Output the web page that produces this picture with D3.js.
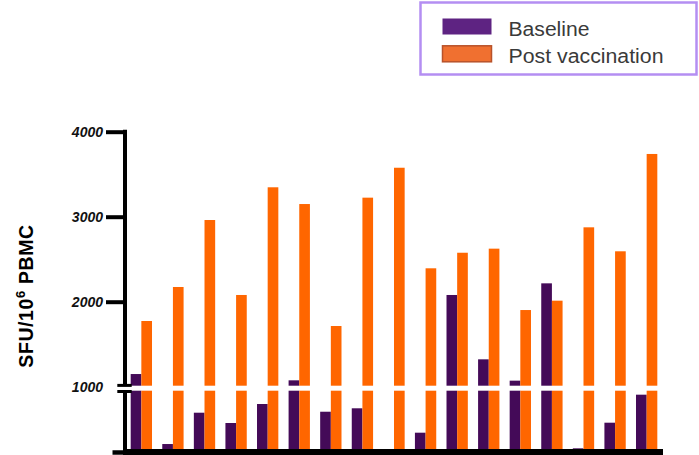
<!DOCTYPE html>
<html>
<head>
<meta charset="utf-8">
<script src="https://cdn.jsdelivr.net/npm/d3@7"></script>
<style>
  html, body { margin: 0; padding: 0; background: #fff; }
  svg { display: block; font-family: "Liberation Sans", Arial, sans-serif; }
</style>
</head>
<body>
<svg id="chart" width="699" height="455"></svg>
<script>
// Subjects 1..17, IFN-gamma ELISpot responses (SFU per 10^6 PBMC)
const subjects = d3.range(1, 18).map(String);
const baseline = [1149, 130, 641, 473, 783, 1075, 657, 713, 0, 315, 2079, 1322, 1071, 2216, 60, 478, 935];
const postVaccination = [1773, 2173, 2961, 2079, 3346, 3149, 1714, 3224, 3576, 2393, 2576, 2624, 1902, 2012, 2875, 2593, 3738];
const seriesNames = ["Baseline", "Post vaccination"];
const upperTicks = [1000, 2000, 3000, 4000];
const breakValue = 1000;

const colors = { "Baseline": "#440a58", "Post vaccination": "#ff6600" };
const legendColors = { "Baseline": "#5e2382", "Post vaccination": "#f07030" };

const svg = d3.select("#chart");

// x: one band per subject, split into two sub-bands
const x = d3.scaleBand().domain(subjects).range([125, 663]).paddingInner(0.325).paddingOuter(0.18);
const xs = d3.scaleBand().domain(seriesNames).range([0, x.bandwidth()]);

// broken y axis: lower segment 0-1000, upper segment 1000-4000
const yLow = d3.scaleLinear().domain([0, breakValue]).range([452, 390.7]);
const yUp = d3.scaleLinear().domain([breakValue, 4000]).range([386.7, 131.7]);
const upperBottom = 385.7;

const rows = subjects.map((s, i) => ({
  subject: s,
  values: [
    { key: "Baseline", value: baseline[i] },
    { key: "Post vaccination", value: postVaccination[i] }
  ]
}));

const groups = svg.append("g").selectAll("g")
  .data(rows).join("g")
  .attr("transform", d => `translate(${x(d.subject)},0)`);

// lower segment part of each bar
groups.selectAll("rect.low")
  .data(d => d.values.filter(v => v.value > 0)).join("rect")
  .attr("class", "low")
  .attr("x", d => xs(d.key))
  .attr("width", xs.bandwidth())
  .attr("y", d => yLow(Math.min(d.value, breakValue)))
  .attr("height", d => yLow(0) - yLow(Math.min(d.value, breakValue)))
  .attr("fill", d => colors[d.key]);

// upper segment part of bars above the break
groups.selectAll("rect.up")
  .data(d => d.values.filter(v => v.value > breakValue)).join("rect")
  .attr("class", "up")
  .attr("x", d => xs(d.key))
  .attr("width", xs.bandwidth())
  .attr("y", d => yUp(d.value))
  .attr("height", d => upperBottom - yUp(d.value))
  .attr("fill", d => colors[d.key]);

// upper axis with ticks and labels
const axUp = svg.append("g")
  .attr("transform", "translate(125,0)")
  .call(d3.axisLeft(yUp).tickValues(upperTicks).tickSize(19).tickPadding(3)
    .tickFormat(d3.format("d")).tickSizeOuter(0));
axUp.select(".domain").remove();
axUp.selectAll(".tick line").attr("stroke", "#000").attr("stroke-width", 4)
  .filter(d => d === breakValue).remove();
axUp.selectAll(".tick text")
  .attr("fill", "#111")
  .style("font-size", "14px").style("font-weight", "bold").style("font-style", "italic");

// lower axis: zero tick only
const axLow = svg.append("g")
  .attr("transform", "translate(125,0)")
  .call(d3.axisLeft(yLow).tickValues([0]).tickSize(12.5).tickFormat(() => "").tickSizeOuter(0));
axLow.select(".domain").remove();
axLow.selectAll(".tick line").attr("stroke", "#000").attr("stroke-width", 4.5);

// axis spines, interrupted at the break
svg.append("line").attr("x1", 125).attr("x2", 125)
  .attr("y1", yUp(4000) - 2).attr("y2", upperBottom)
  .attr("stroke", "#000").attr("stroke-width", 4);
svg.append("line").attr("x1", 125).attr("x2", 125)
  .attr("y1", yLow(breakValue)).attr("y2", yLow(0))
  .attr("stroke", "#000").attr("stroke-width", 4);
// break marks
[upperBottom - 0.3, yLow(breakValue) + 0.8].forEach(yy => {
  svg.append("line").attr("x1", 117.3).attr("x2", 131.7)
    .attr("y1", yy).attr("y2", yy)
    .attr("stroke", "#000").attr("stroke-width", 3);
});
// x baseline
svg.append("line").attr("x1", 123).attr("x2", 663)
  .attr("y1", yLow(0)).attr("y2", yLow(0))
  .attr("stroke", "#000").attr("stroke-width", 6);

// y axis title
const yTitle = svg.append("text")
  .attr("transform", "translate(33,296) rotate(-90)")
  .attr("text-anchor", "middle")
  .attr("fill", "#000")
  .style("font-size", "19.5px").style("font-weight", "bold")
  .style("letter-spacing", "0.6px");
yTitle.append("tspan").text("SFU/10");
yTitle.append("tspan").attr("dy", -8).style("font-size", "13px").text("6");
yTitle.append("tspan").attr("dy", 8).text(" PBMC");

// legend
const legend = svg.append("g");
legend.append("rect")
  .attr("x", 420.5).attr("y", 2.5).attr("width", 276).attr("height", 72)
  .attr("fill", "#fff").attr("stroke", "#b48ef2").attr("stroke-width", 2.5);
const legendTextWidth = { "Baseline": 81, "Post vaccination": 155 };
seriesNames.forEach((name, i) => {
  const yy = 18.5 + i * 27.3;
  legend.append("rect")
    .attr("x", 442.5).attr("y", yy).attr("width", 49).attr("height", 16)
    .attr("fill", legendColors[name])
    .attr("stroke", name === "Post vaccination" ? "#b8522a" : "none")
    .attr("stroke-width", 1.5);
  legend.append("text")
    .attr("x", 508.5).attr("y", yy + 17.5)
    .attr("fill", "#3a3a3a")
    .attr("textLength", legendTextWidth[name])
    .attr("lengthAdjust", "spacingAndGlyphs")
    .style("font-size", "19.5px")
    .text(name);
});
</script>
</body>
</html>
